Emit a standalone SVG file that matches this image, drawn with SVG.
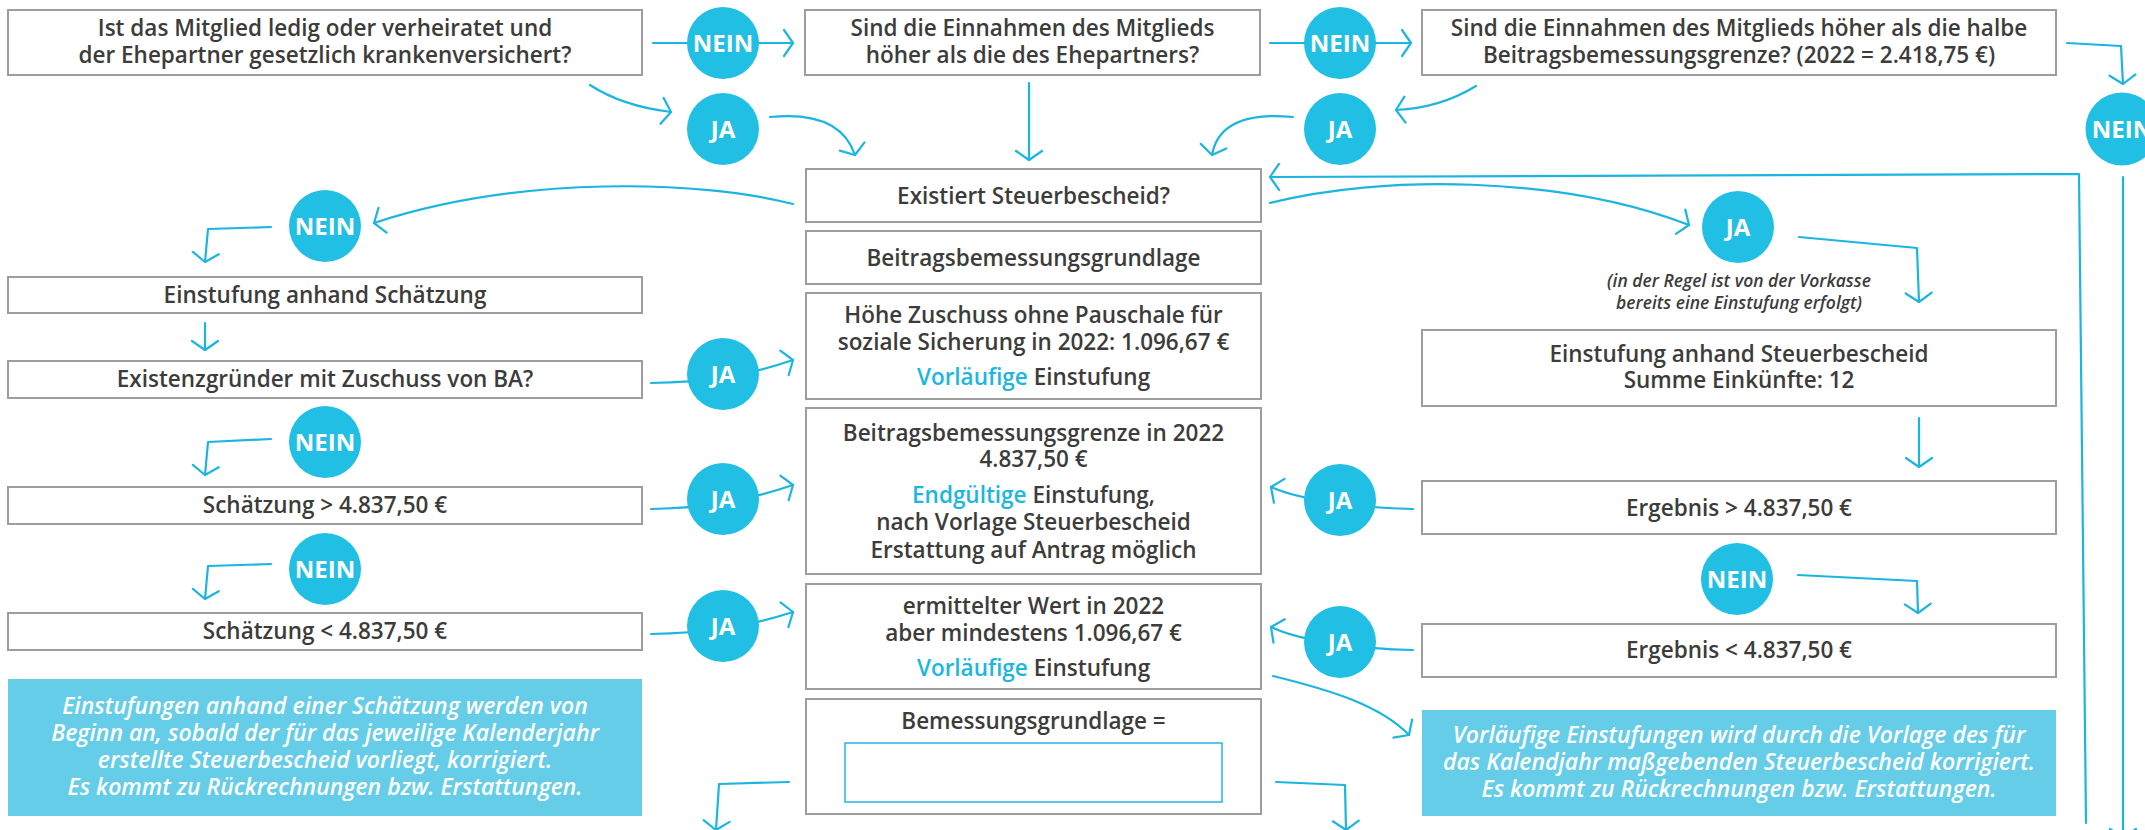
<svg xmlns="http://www.w3.org/2000/svg" width="2145" height="830" viewBox="0 0 2145 830">
<style>
.box{fill:#fff;stroke:#9d9d9c;stroke-width:2}
.inp{fill:#fff;stroke:#1fb8e2;stroke-width:1.5}
.t{font-family:"Open Sans","Liberation Sans",sans-serif;font-weight:600;font-size:22.5px;fill:#3c3c3b;text-anchor:middle}
.hl{fill:#1db6e1}
.c{fill:#21bfe3}
.cl{font-family:"Open Sans","Liberation Sans",sans-serif;font-weight:700;font-size:24px;fill:#fff;text-anchor:middle}
.note{fill:#66cde8}
.nt{font-family:"Open Sans","Liberation Sans",sans-serif;font-weight:600;font-style:italic;font-size:23px;fill:#fff;text-anchor:middle}
.it{font-family:"Open Sans","Liberation Sans",sans-serif;font-weight:600;font-style:italic;font-size:17.5px;fill:#3c3c3b;text-anchor:middle}
.ln{fill:none;stroke:#1cb5df;stroke-width:2.2;stroke-linecap:round;stroke-linejoin:round;marker-end:url(#ah)}
</style>
<defs>
<marker id="ah" markerUnits="userSpaceOnUse" markerWidth="14" markerHeight="32" viewBox="-12 -16 14 32" refX="0" refY="0" orient="auto">
<path d="M-9,-13 L0,0 L-9,13" fill="none" stroke="#1cb5df" stroke-width="2.2" stroke-linecap="round" stroke-linejoin="round"/>
</marker>
</defs>
<rect width="2145" height="830" fill="#fff"/>

<g id="connectors">
<path class="ln" d="M653,43 L793,43"/>
<path class="ln" d="M1270,43 L1411,43"/>
<path class="ln" d="M2067,43 L2121,46 L2123,84"/>
<path class="ln" d="M590,85 Q622,106 671,112"/>
<path class="ln" d="M770,117 Q840,110 855,155"/>
<path class="ln" d="M1029,83 L1029,160"/>
<path class="ln" d="M1476,86 Q1440,108 1396,110"/>
<path class="ln" d="M1293,117 Q1220,110 1212,155"/>
<path class="ln" d="M2086,823 L2079,174 L1270,177"/>
<path class="ln" d="M2123,177 L2123,838"/>
<path class="ln" d="M793,204 C700,180 520,175 374,223"/>
<path class="ln" d="M271,227 L208,229 L205,262"/>
<path class="ln" d="M1270,203 C1380,175 1560,175 1689,225"/>
<path class="ln" d="M1799,237 L1917,248 L1919,302"/>
<path class="ln" d="M205,323 L205,350"/>
<path class="ln" d="M651,383 C700,382 740,378 793,360"/>
<path class="ln" d="M271,439 L208,442 L205,475"/>
<path class="ln" d="M651,509 C700,508 740,503 793,485"/>
<path class="ln" d="M271,564 L208,566 L205,599"/>
<path class="ln" d="M651,634 C700,633 740,629 793,612"/>
<path class="ln" d="M1919,418 L1919,467"/>
<path class="ln" d="M1413,509 C1360,508 1300,500 1271,487"/>
<path class="ln" d="M1798,575 L1917,581 L1918,613"/>
<path class="ln" d="M1413,650 C1360,649 1300,641 1271,627"/>
<path class="ln" d="M1273,676 C1330,690 1380,705 1409,735"/>
<path class="ln" d="M789,782 L719,784 L716,830"/>
<path class="ln" d="M1276,782 L1345,785 L1346,830"/>
</g>

<g id="box-a"><rect class="box" x="8" y="10" width="634" height="65"/>
<text class="t" x="325" y="36">Ist das Mitglied ledig oder verheiratet und</text>
<text class="t" x="325" y="63">der Ehepartner gesetzlich krankenversichert?</text></g>
<g id="box-b"><rect class="box" x="805" y="10" width="455" height="65"/>
<text class="t" x="1032.5" y="36">Sind die Einnahmen des Mitglieds</text>
<text class="t" x="1032.5" y="63">höher als die des Ehepartners?</text></g>
<g id="box-c"><rect class="box" x="1422" y="10" width="634" height="65"/>
<text class="t" x="1739" y="36">Sind die Einnahmen des Mitglieds höher als die halbe</text>
<text class="t" x="1739" y="63">Beitragsbemessungsgrenze? (2022 = 2.418,75 €)</text></g>

<g id="box-existiert"><rect class="box" x="806" y="169" width="455" height="53"/>
<text class="t" x="1033.5" y="204">Existiert Steuerbescheid?</text></g>
<g id="box-grundlage"><rect class="box" x="806" y="231" width="455" height="53"/>
<text class="t" x="1033.5" y="266">Beitragsbemessungsgrundlage</text></g>
<g id="box-zuschuss"><rect class="box" x="806" y="293" width="455" height="106"/>
<text class="t" x="1033.5" y="323">Höhe Zuschuss ohne Pauschale für</text>
<text class="t" x="1033.5" y="350">soziale Sicherung in 2022: 1.096,67 €</text>
<text class="t" x="1033.5" y="385"><tspan class="hl">Vorläufige</tspan> Einstufung</text></g>
<g id="box-grenze"><rect class="box" x="806" y="408" width="455" height="166"/>
<text class="t" x="1033.5" y="441">Beitragsbemessungsgrenze in 2022</text>
<text class="t" x="1033.5" y="467">4.837,50 €</text>
<text class="t" x="1033.5" y="503"><tspan class="hl">Endgültige</tspan> Einstufung,</text>
<text class="t" x="1033.5" y="530">nach Vorlage Steuerbescheid</text>
<text class="t" x="1033.5" y="558">Erstattung auf Antrag möglich</text></g>
<g id="box-ermittelt"><rect class="box" x="806" y="584" width="455" height="105"/>
<text class="t" x="1033.5" y="614">ermittelter Wert in 2022</text>
<text class="t" x="1033.5" y="641">aber mindestens 1.096,67 €</text>
<text class="t" x="1033.5" y="676"><tspan class="hl">Vorläufige</tspan> Einstufung</text></g>
<g id="box-bemessung"><rect class="box" x="806" y="699" width="455" height="115"/>
<text class="t" x="1033.5" y="729">Bemessungsgrundlage =</text>
<rect class="inp" x="845" y="743" width="377" height="59"/></g>

<g id="box-schaetzung"><rect class="box" x="8" y="277" width="634" height="36"/>
<text class="t" x="325" y="303">Einstufung anhand Schätzung</text></g>
<g id="box-gruender"><rect class="box" x="8" y="361" width="634" height="37"/>
<text class="t" x="325" y="387">Existenzgründer mit Zuschuss von BA?</text></g>
<g id="box-sch-gt"><rect class="box" x="8" y="487" width="634" height="37"/>
<text class="t" x="325" y="513">Schätzung &gt; 4.837,50 €</text></g>
<g id="box-sch-lt"><rect class="box" x="8" y="613" width="634" height="37"/>
<text class="t" x="325" y="639">Schätzung &lt; 4.837,50 €</text></g>
<g id="note-left"><rect class="note" x="8" y="679" width="634" height="137"/>
<text class="nt" x="325" y="714">Einstufungen anhand einer Schätzung werden von</text>
<text class="nt" x="325" y="741">Beginn an, sobald der für das jeweilige Kalenderjahr</text>
<text class="nt" x="325" y="768">erstellte Steuerbescheid vorliegt, korrigiert.</text>
<text class="nt" x="325" y="795">Es kommt zu Rückrechnungen bzw. Erstattungen.</text></g>

<g id="note-vorkasse">
<text class="it" x="1739" y="287">(in der Regel ist von der Vorkasse</text>
<text class="it" x="1739" y="309">bereits eine Einstufung erfolgt)</text></g>
<g id="box-steuer"><rect class="box" x="1422" y="330" width="634" height="76"/>
<text class="t" x="1739" y="362">Einstufung anhand Steuerbescheid</text>
<text class="t" x="1739" y="388">Summe Einkünfte: 12</text></g>
<g id="box-erg-gt"><rect class="box" x="1422" y="481" width="634" height="53"/>
<text class="t" x="1739" y="516">Ergebnis &gt; 4.837,50 €</text></g>
<g id="box-erg-lt"><rect class="box" x="1422" y="624" width="634" height="53"/>
<text class="t" x="1739" y="658">Ergebnis &lt; 4.837,50 €</text></g>
<g id="note-right"><rect class="note" x="1422" y="710" width="634" height="106"/>
<text class="nt" x="1739" y="743">Vorläufige Einstufungen wird durch die Vorlage des für</text>
<text class="nt" x="1739" y="770">das Kalendjahr maßgebenden Steuerbescheid korrigiert.</text>
<text class="nt" x="1739" y="797">Es kommt zu Rückrechnungen bzw. Erstattungen.</text></g>

<g id="nein-1"><circle class="c" cx="723" cy="43" r="36"/><text class="cl" x="723" y="52">NEIN</text></g>
<g id="nein-2"><circle class="c" cx="1340" cy="43" r="36"/><text class="cl" x="1340" y="52">NEIN</text></g>
<g id="nein-3"><circle class="c" cx="2122" cy="129" r="36.5"/><text class="cl" x="2122" y="138">NEIN</text></g>
<g id="ja-1"><circle class="c" cx="723" cy="129" r="36"/><text class="cl" x="723" y="138">JA</text></g>
<g id="ja-2"><circle class="c" cx="1340" cy="129" r="36"/><text class="cl" x="1340" y="138">JA</text></g>
<g id="nein-l1"><circle class="c" cx="325" cy="226" r="36"/><text class="cl" x="325" y="235">NEIN</text></g>
<g id="ja-r1"><circle class="c" cx="1738" cy="227" r="36"/><text class="cl" x="1738" y="236">JA</text></g>
<g id="ja-l1"><circle class="c" cx="723" cy="374" r="36"/><text class="cl" x="723" y="383">JA</text></g>
<g id="nein-l2"><circle class="c" cx="325" cy="442" r="36"/><text class="cl" x="325" y="451">NEIN</text></g>
<g id="ja-l2"><circle class="c" cx="723" cy="499" r="36"/><text class="cl" x="723" y="508">JA</text></g>
<g id="ja-m1"><circle class="c" cx="1340" cy="500" r="36"/><text class="cl" x="1340" y="509">JA</text></g>
<g id="nein-l3"><circle class="c" cx="325" cy="569" r="36"/><text class="cl" x="325" y="578">NEIN</text></g>
<g id="ja-l3"><circle class="c" cx="723" cy="626" r="36"/><text class="cl" x="723" y="635">JA</text></g>
<g id="ja-m2"><circle class="c" cx="1340" cy="642" r="36"/><text class="cl" x="1340" y="651">JA</text></g>
<g id="nein-r"><circle class="c" cx="1737" cy="579" r="36"/><text class="cl" x="1737" y="588">NEIN</text></g>
</svg>
